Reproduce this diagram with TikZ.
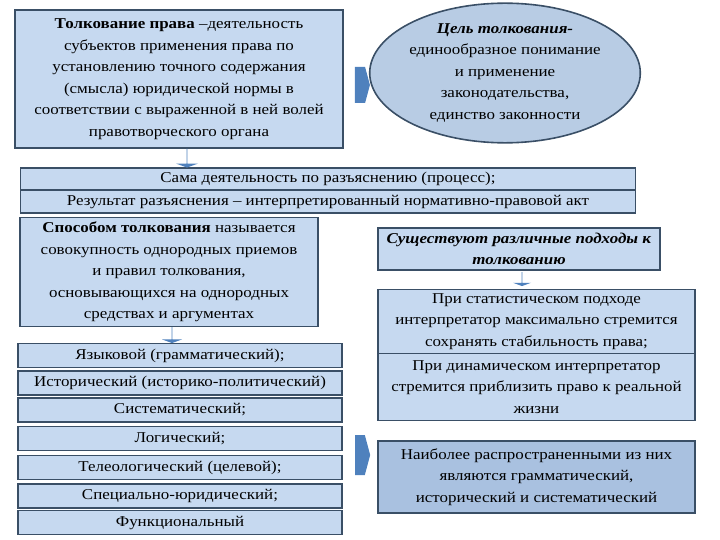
\documentclass[tikz,border=0pt]{standalone}
\usepackage{fontspec}
\setmainfont[FakeStretch=1.13]{Liberation Serif}
\usetikzlibrary{shapes.geometric,shapes.arrows}
\definecolor{boxfill}{HTML}{C6D9F0}
\definecolor{boxdark}{HTML}{A9C1E0}
\definecolor{ellfill}{HTML}{B8CCE4}
\definecolor{edge}{HTML}{3A4F66}
\definecolor{arr}{HTML}{4F81BD}
\tikzset{
  box/.style={draw=edge,line width=1.6pt,fill=boxfill,rectangle,align=center,inner sep=2pt,
    font=\fontsize{15}{21.5}\selectfont,text=black},
  barx/.style={box,minimum width=615,minimum height=22.5},
  item/.style={box,minimum width=324,minimum height=24},
  rarr/.style={single arrow,draw=none,fill=arr,single arrow head extend=0pt,single arrow tip angle=150,inner sep=0pt},
  darr/.style={single arrow,draw=none,fill=arr,shape border rotate=270,single arrow head extend=6pt,single arrow tip angle=140,inner sep=0pt},
}
\begin{document}
\begin{tikzpicture}[x=1pt,y=-1pt]
\useasboundingbox (0,0) rectangle (720,540);
\node[box,minimum width=328,minimum height=138] (b1) at (179,79) {\textbf{Толкование права} --деятельность\\субъектов применения права по\\установлению точного содержания\\(смысла) юридической нормы в\\соответствии с выраженной в ней волей\\правотворческого органа};
\node[ellipse,draw=edge,line width=1.6pt,fill=ellfill,minimum width=256,minimum height=122,align=center,inner sep=0pt,font=\fontsize{15}{21.5}\selectfont] (ell) at (505,73) {\textbf{\textit{Цель толкования-}}\\единообразное понимание\\и применение\\законодательства,\\единство законности};
\node[rarr,minimum height=15,minimum width=36] (a1) at (360,85) {};
\node[barx] (s1) at (328,179) {Сама деятельность по разъяснению (процесс);};
\node[barx] (s2) at (328,201.5) {Результат разъяснения -- интерпретированный нормативно-правовой акт};
\node[darr,minimum width=22,minimum height=19] (a2) at (187,158) {};
\node[box,minimum width=298,minimum height=109] (b3) at (169,272) {\textbf{Способом толкования} называется\\совокупность однородных приемов\\и правил толкования,\\основывающихся на однородных\\средствах и аргументах};
\node[darr,minimum width=20,minimum height=16] (a3) at (172,335) {};
\node[item] (i1) at (180,355.5) {Языковой (грамматический);};
\node[item] (i2) at (180,383) {Исторический (историко-политический)};
\node[item] (i3) at (180,410) {Систематический;};
\node[item] (i4) at (180,438.5) {Логический;};
\node[item] (i5) at (180,467.5) {Телеологический (целевой);};
\node[item] (i6) at (180,496) {Специально-юридический;};
\node[item] (i7) at (180,522.5) {Функциональный};
\node[box,minimum width=282,minimum height=42] (r1) at (519,249) {\textbf{\textit{Существуют различные подходы к}}\\\textbf{\textit{толкованию}}};
\node[darr,minimum width=18,minimum height=14] (a4) at (522,279) {};
\node[box,minimum width=317,minimum height=64] (r2) at (536.5,321.5) {При статистическом подходе\\интерпретатор максимально стремится\\сохранять стабильность права;};
\node[box,minimum width=317,minimum height=67] (r3) at (536.5,387) {При динамическом интерпретатор\\стремится приблизить право к реальной\\жизни};
\node[box,fill=boxdark,minimum width=317,minimum height=72] (r4) at (536.5,477) {Наиболее распространенными из них\\являются грамматический,\\исторический и систематический};
\node[rarr,minimum height=15,minimum width=40] (a5) at (360,455) {};
\end{tikzpicture}
\end{document}
